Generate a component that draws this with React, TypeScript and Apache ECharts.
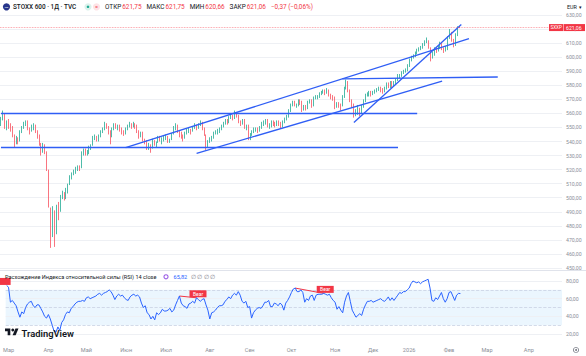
import React, { useEffect, useRef } from 'react';
import * as echarts from 'echarts';

// ---------- DATA (daily candles [open, close, low, high]) ----------
const candlesFeb25 = [[553, 556.5, 551, 557.5]];
const candlesMar25 = [
  [556.5, 560, 555, 562], [559, 551, 549, 560], [551, 553, 548, 555], [553, 552, 549, 556], [552, 550, 547, 553],
  [550, 544, 543, 551], [544, 539, 536, 545], [539, 542, 538, 544], [542, 540, 538, 543], [540, 547, 540, 548],
  [547, 550, 546, 551], [550, 553, 549, 554], [553, 554, 551, 555], [554, 549, 548, 555], [549, 547, 545, 550],
  [547, 550, 547, 552], [550, 551, 548, 553], [551, 547, 546, 552], [547, 544, 542, 548], [544, 538, 537, 545],
  [538, 534, 530, 539],
];
const candlesApr25 = [
  [534, 537, 532, 539], [537, 533, 531, 538], [531, 521, 519, 533], [519, 495, 493, 520], [490, 478, 464.3, 493],
  [480, 490, 472, 494], [489, 476, 465, 491], [478, 491, 474, 495], [491, 489, 484, 497], [491, 500, 490, 502],
  [500, 503, 499, 505], [503, 500, 498, 504], [500, 506, 499, 507], [505, 508, 503, 510], [510, 514, 509, 516],
  [514, 517, 513, 518], [517, 519, 516, 520], [519, 520, 517, 522], [520, 522, 519, 523], [522, 521, 519, 523],
];
const candlesMay25 = [
  [521, 532, 521, 533], [532, 534, 530, 535], [534, 532, 530, 535], [532, 533, 530, 534], [533, 535, 531, 537],
  [535, 537, 534, 538], [538, 542, 537, 544], [542, 543, 541, 545], [543, 541, 540, 544], [541, 544, 540, 545],
  [544, 547, 543, 548], [547, 549, 546, 550], [549, 552, 548, 554], [552, 550, 549, 553], [550, 547, 545, 551],
  [547, 543, 538, 548], [544, 549, 543, 550], [549, 552, 548, 553], [552, 550, 549, 553], [550, 551, 548, 552],
  [551, 549, 547, 552],
];
const candlesJun25 = [
  [549, 547, 545, 550], [547, 546, 544, 548], [546, 549, 545, 550], [549, 551, 548, 552], [551, 552, 550, 554],
  [552, 551, 549, 553], [551, 552, 550, 554], [552, 551, 549, 553], [551, 547, 546, 552], [547, 544, 542, 548],
  [544, 546, 543, 547], [546, 541, 540, 547], [541, 540, 538, 542], [540, 535, 534, 541], [535, 537, 534, 539],
  [537, 534, 532, 538], [535, 540, 535, 542], [540, 538, 537, 541], [538, 539, 536, 540], [539, 543, 539, 544],
  [543, 541, 540, 544],
];
const candlesJul25 = [
  [541, 541, 538, 543], [541, 542, 540, 544], [542, 543, 541, 545], [543, 540, 539, 544], [540, 541, 539, 542],
  [541, 545, 541, 546], [545, 549, 545, 551], [549, 552, 548, 553], [552, 547, 546, 552], [547, 545, 543, 548],
  [545, 544, 542, 547], [544, 542, 540, 545], [542, 546, 542, 547], [546, 547, 545, 549], [547, 548, 546, 550],
  [548, 547, 545, 549], [547, 550, 547, 551], [550, 551, 549, 553], [551, 550, 548, 552], [550, 552, 549, 553],
  [552, 553, 551, 555], [553, 549, 548, 554], [549, 545, 544, 550],
];
const candlesAug25 = [
  [544, 536, 534, 545], [537, 540, 536, 541], [540, 541, 539, 543], [541, 543, 540, 544], [543, 546, 542, 547],
  [546, 547, 545, 548], [547, 547, 545, 549], [547, 548, 546, 550], [548, 551, 548, 552], [551, 553, 550, 554],
  [553, 555, 552, 556], [555, 554, 552, 556], [554, 557, 553, 558], [557, 558, 556, 559], [558, 557, 555, 559],
  [557, 560, 556, 562], [560, 558, 557, 561], [558, 554, 553, 559], [554, 553, 551, 555], [553, 555, 552, 556],
  [555, 550, 549, 556],
];
const candlesSep25 = [
  [550, 551, 548, 552], [551, 542, 541, 552], [542, 545, 541, 546], [545, 547, 544, 548], [547, 548, 546, 550],
  [548, 549, 547, 550], [549, 548, 546, 550], [548, 550, 547, 551], [550, 553, 549, 554], [553, 553, 551, 555],
  [553, 555, 552, 556], [555, 551, 550, 556], [551, 551, 549, 553], [551, 554, 550, 555], [554, 553, 551, 555],
  [553, 552, 550, 554], [552, 554, 551, 555], [554, 553, 551, 555], [553, 550, 549, 554], [550, 554, 550, 555],
  [554, 556, 553, 557], [556, 558, 555, 559],
];
const candlesOct25 = [
  [558, 562, 557, 563], [562, 566, 561, 567], [566, 568, 565, 569], [568, 566, 565, 569], [566, 566, 564, 567],
  [566, 569, 565, 570], [569, 568, 566, 570], [568, 562, 561, 569], [563, 565, 562, 566], [565, 564, 562, 566],
  [564, 568, 563, 569], [568, 569, 567, 570], [569, 565, 564, 570], [566, 571, 565, 572], [571, 572, 570, 573],
  [572, 572, 570, 573], [572, 574, 571, 575], [574, 575, 573, 576], [575, 576, 574, 577], [576, 575, 573, 577],
  [575, 576, 574, 578], [576, 573, 572, 577], [573, 572, 570, 574],
];
const candlesNov25 = [
  [572, 571, 569, 573], [571, 565, 563, 572], [565, 567, 564, 568], [567, 566, 564, 568], [566, 565, 562, 567],
  [566, 572, 565, 573], [572, 578, 571, 579], [578, 582, 577, 584], [582, 576, 575, 583], [576, 569, 568, 577],
  [569, 566, 564, 570], [566, 559, 557, 567], [559, 561, 558, 563], [561, 563, 559, 566], [563, 560, 558, 564],
  [560, 565, 560, 566], [565, 569, 564, 570], [569, 573, 568, 574], [573, 573, 572, 575], [573, 575, 572, 576],
];
const candlesDec25 = [
  [575, 574, 572, 576], [574, 575, 573, 576], [575, 576, 574, 577], [576, 577, 575, 578], [577, 578, 576, 579],
  [578, 577, 575, 579], [577, 576, 574, 578], [576, 578, 575, 579], [578, 581, 577, 582], [581, 579, 578, 582],
  [579, 582, 578, 583], [582, 580, 578, 583], [580, 582, 579, 583], [582, 584, 581, 585], [584, 587, 583, 588],
  [587, 587, 585, 588], [587, 589, 586, 590], [589, 590, 588, 591], [590, 591, 589, 592],
];
const candlesJan26 = [
  [591, 594, 590, 595], [594, 598, 593, 599], [598, 600, 597, 601], [600, 601, 599, 602], [601, 603, 600, 604],
  [603, 605, 602, 606], [605, 606, 604, 607], [606, 607, 605, 608], [607, 609, 606, 610], [609, 611, 608, 612],
  [611, 612, 610, 614], [612, 607, 606, 612], [606, 601, 597, 607], [601, 602, 599, 604], [602, 606, 601, 607],
  [606, 605, 603, 607], [605, 607, 604, 608], [607, 609, 606, 611], [609, 606, 605, 610], [606, 605, 603, 607],
  [605, 607, 604, 608],
];
const candlesFeb26 = [
  [606, 614, 605, 615], [614, 617, 613, 620], [617, 612, 611, 618], [612, 609, 607, 613], [609, 616, 608, 617],
  [616, 621.43, 615, 622], [621.75, 621.06, 620.66, 621.75],
];

// RSI (14, close) values per bar
const rsiFeb25 = [75];
const rsiMar25 = [73, 56, 58, 55, 52, 45, 39, 45, 43, 50, 54, 56, 57, 52, 50, 53, 53, 49, 45, 40, 38];
const rsiApr25 = [42, 37, 30, 23, 22, 28, 24, 33, 36, 42, 45, 44, 49, 51, 54, 56, 57, 57, 58, 57];
const rsiMay25 = [61, 62, 60, 61, 62, 63, 65, 66, 64, 66, 67, 68, 70, 68, 64, 59, 63, 65, 63, 64, 61];
const rsiJun25 = [59, 58, 62, 64, 65, 63, 64, 62, 55, 50, 52, 44, 42, 37, 40, 36, 44, 42, 44, 48, 46];
const rsiJul25 = [46, 47, 49, 45, 47, 53, 58, 63, 55, 52, 51, 49, 54, 55, 57, 55, 61, 59, 57, 59, 60, 53, 47];
const rsiAug25 = [37, 44, 45, 47, 50, 52, 52, 53, 57, 59, 62, 60, 64, 66, 64, 68, 64, 57, 55, 57, 50];
const rsiSep25 = [51, 38, 44, 47, 49, 50, 49, 52, 56, 56, 58, 51, 51, 55, 54, 52, 55, 53, 47, 55, 58, 62];
const rsiOct25 = [67, 71, 72, 68, 68, 70, 67, 56, 60, 58, 63, 64, 58, 64, 65, 65, 65, 66, 65, 64, 65, 61, 58];
const rsiNov25 = [56, 48, 51, 47, 44, 56, 63, 67, 57, 47, 43, 39, 41, 43, 41, 48, 53, 57, 57, 58];
const rsiDec25 = [56, 57, 58, 59, 60, 58, 57, 59, 62, 58, 61, 58, 61, 64, 67, 66, 68, 68, 70];
const rsiJan26 = [72, 77, 80, 79, 78, 79, 77, 79, 80, 81, 82, 72, 58, 57, 61, 59, 63, 67, 60, 56, 60];
const rsiFeb26 = [67, 68, 63, 58, 64, 66, 65.82];

// Drawn trend lines: [barIndex, price] pairs
const trendLines = [
  [[0, 560.1], [217, 560.1]],
  [[0, 535.6], [207, 535.6]],
  [[178, 584.6], [259, 585.9]],
  [[65, 535.6], [244, 613.2]],
  [[102, 531.6], [230, 582.9]],
  [[184, 553.5], [240, 623.2]],
];
// RSI bearish divergences: [fromIndex, fromValue, toIndex, toValue]
const bearDivergences = [
  [91, 63, 100, 61],
  [152, 72, 167, 66],
];

const HOLIDAYS = ['2025-04-18', '2025-04-21', '2025-05-01', '2025-12-24', '2025-12-25', '2025-12-26',
  '2025-12-31', '2026-01-01', '2026-04-03', '2026-04-06'];
const MONTHS = ['Янв', 'Фев', 'Мар', 'Апр', 'Май', 'Июн', 'Июл', 'Авг', 'Сен', 'Окт', 'Ноя', 'Дек'];
const START_DATE = '2025-02-28';
const TOTAL_BARS = 293;

const candles = [
  ...candlesFeb25, ...candlesMar25, ...candlesApr25, ...candlesMay25, ...candlesJun25, ...candlesJul25,
  ...candlesAug25, ...candlesSep25, ...candlesOct25, ...candlesNov25, ...candlesDec25, ...candlesJan26, ...candlesFeb26,
];
const rsi = [
  ...rsiFeb25, ...rsiMar25, ...rsiApr25, ...rsiMay25, ...rsiJun25, ...rsiJul25, ...rsiAug25, ...rsiSep25,
  ...rsiOct25, ...rsiNov25, ...rsiDec25, ...rsiJan26, ...rsiFeb26,
];

function buildDates(start: string, count: number): string[] {
  const out: string[] = [];
  const d = new Date(start + 'T00:00:00Z');
  while (out.length < count) {
    const dow = d.getUTCDay();
    const s = d.toISOString().slice(0, 10);
    if (dow !== 0 && dow !== 6 && HOLIDAYS.indexOf(s) < 0) out.push(s);
    d.setUTCDate(d.getUTCDate() + 1);
  }
  return out;
}
const dates = buildDates(START_DATE, TOTAL_BARS);

const FONT = 'Roboto, "Noto Sans", sans-serif';
const UP = '#22ab94';
const DOWN = '#f7525f';
const LINE_BLUE = '#2f5ef5';
const fmt = (v: number) => v.toFixed(2).replace('.', ',').replace('-', '−');

function measure(text: string, size: number, weight = 400): number {
  const c = document.createElement('canvas').getContext('2d');
  if (!c) return text.length * size * 0.55;
  c.font = `${weight} ${size}px Roboto`;
  return c.measureText(text).width;
}

export default function App() {
  const ref = useRef<HTMLDivElement>(null);
  useEffect(() => {
    if (!ref.current) return;
    const chart = echarts.init(ref.current, undefined, { renderer: 'svg' });
    const last = candles[candles.length - 1];
    const prevClose = candles[candles.length - 2][1];
    const change = last[1] - prevClose;
    const changePct = (change / prevClose) * 100;

    const option: any = {
      animation: false,
      backgroundColor: '#ffffff',
      grid: [
        { left: 0, right: 24, top: 15, height: 253 },
        { left: 0, right: 24, top: 272.2, height: 70.6 },
      ],
      xAxis: [
        {
          type: 'category', gridIndex: 0, data: dates,
          axisLine: { show: false }, axisTick: { show: false }, axisLabel: { show: false }, splitLine: { show: false },
        },
        {
          type: 'category', gridIndex: 1, data: dates,
          axisLine: { show: false }, axisTick: { show: false }, splitLine: { show: false },
          axisLabel: {
            interval: (i: number) => i > 0 && dates[i].slice(5, 7) !== dates[i - 1].slice(5, 7),
            formatter: (v: string) => {
              const m = parseInt(v.slice(5, 7), 10);
              return m === 1 ? v.slice(0, 4) : MONTHS[m - 1];
            },
            color: '#8b8e97', fontSize: 5.6, fontFamily: FONT, margin: 4,
          },
        },
      ],
      yAxis: [
        {
          type: 'value', gridIndex: 0, position: 'right', min: 450, max: 630, interval: 10, scale: true,
          axisLine: { show: false }, axisTick: { show: false },
          axisLabel: { formatter: (v: number) => fmt(v), color: '#8b8e97', fontSize: 5.2, fontFamily: FONT, margin: 4 },
          splitLine: { lineStyle: { color: '#eef0f4', width: 1 } },
        },
        {
          type: 'value', gridIndex: 1, position: 'right', min: 10, max: 90, interval: 10,
          axisLine: { show: false }, axisTick: { show: false }, splitLine: { show: false },
          axisLabel: {
            formatter: (v: number) => (v % 20 === 0 ? fmt(v) : ''),
            color: '#8b8e97', fontSize: 5.2, fontFamily: FONT, margin: 4,
          },
        },
      ],
      series: [
        {
          type: 'candlestick', xAxisIndex: 0, yAxisIndex: 0, data: candles, barWidth: '55%',
          itemStyle: { color: UP, color0: DOWN, borderColor: UP, borderColor0: DOWN, borderWidth: 0.8 },
          markLine: {
            silent: true, symbol: ['none', 'none'], animation: false, label: { show: false },
            data: [
              ...trendLines.map((l) => [
                { coord: l[0], lineStyle: { color: LINE_BLUE, width: 1.3, type: 'solid' } },
                { coord: l[1] },
              ]),
              { yAxis: last[1], lineStyle: { color: DOWN, width: 0.8, type: 'dotted', opacity: 0.7 } },
            ],
          },
        },
        {
          type: 'line', xAxisIndex: 1, yAxisIndex: 1, data: rsi, showSymbol: false, symbol: 'none',
          lineStyle: { color: '#2962ff', width: 1 }, z: 5,
          markArea: {
            silent: true,
            itemStyle: { color: 'rgba(33,150,243,0.09)' },
            data: [[{ yAxis: 30 }, { yAxis: 70 }]],
          },
          markLine: {
            silent: true, symbol: ['none', 'none'], animation: false, label: { show: false },
            data: [
              ...[20, 40, 60, 80].map((v) => ({ yAxis: v, lineStyle: { color: '#eef0f4', width: 1, type: 'solid' } })),
              ...[70, 50, 30].map((v) => ({ yAxis: v, lineStyle: { color: '#c9d2e3', width: 0.8, type: 'dashed' } })),
              ...bearDivergences.map((d) => [
                { coord: [d[0], d[1]], lineStyle: { color: '#f23645', width: 1, type: 'solid' } },
                { coord: [d[2], d[3]] },
              ]),
            ],
          },
          markPoint: {
            silent: true, symbol: 'rect', symbolSize: [17, 7], animation: false,
            itemStyle: { color: '#f23645' },
            label: { show: true, formatter: 'Bear', color: '#ffffff', fontSize: 5, fontFamily: FONT, position: 'inside' },
            data: [
              { coord: [0, rsi[0]], symbolOffset: [-4.5, -4], label: { show: false } },
              ...bearDivergences.map((d) => ({ coord: [d[2], d[3]], symbolOffset: [1.5, -4] })),
            ],
          },
        },
      ],
    };
    chart.setOption(option);

    const yLast = chart.convertToPixel({ yAxisIndex: 0 }, last[1]) as number;
    const hdrY = 6.8;
    const HS = 6.4;
    const hdrFont = { fontSize: HS, fontFamily: FONT, verticalAlign: 'middle' as const };
    const headerPairs: [string, string][] = [
      ['ОТКР', fmt(last[0])],
      ['МАКС', fmt(last[3])],
      ['МИН', fmt(last[2])],
      ['ЗАКР', fmt(last[1])],
    ];
    const headerEls: any[] = [];
    let hx = 105;
    headerPairs.forEach(([lab, val]) => {
      headerEls.push({ type: 'text', x: hx, y: hdrY, style: { text: lab, fill: '#131722', ...hdrFont }, z: 20 });
      hx += measure(lab, HS) + 1;
      headerEls.push({ type: 'text', x: hx, y: hdrY, style: { text: val, fill: '#f23645', ...hdrFont }, z: 20 });
      hx += measure(val, HS) + 5;
    });
    headerEls.push({
      type: 'text', x: hx, y: hdrY,
      style: { text: `${fmt(change)} (${fmt(changePct)}%)`, fill: '#f23645', ...hdrFont }, z: 20,
    });

    const s = 0.38, lx = 5, ly = 327;
    const P = (pts: number[][]) => pts.map((p) => [lx + p[0] * s, ly + p[1] * s]);

    const graphics: any[] = [
      { type: 'line', shape: { x1: 0, y1: 270.5, x2: 586, y2: 270.5 }, style: { stroke: '#e0e3eb', lineWidth: 1 }, z: 10 },
      // header
      { type: 'circle', shape: { cx: 6.5, cy: hdrY, r: 3.6 }, style: { fill: '#27358a' }, z: 20 },
      { type: 'text', x: 6.5, y: hdrY, style: { text: '600', fill: '#fff', fontSize: 2.2, fontFamily: FONT, align: 'center', verticalAlign: 'middle' }, z: 21 },
      { type: 'text', x: 13, y: hdrY, style: { text: 'STOXX 600 · 1Д · TVC', fill: '#131722', fontWeight: 500, fontSize: 6.4, fontFamily: FONT, verticalAlign: 'middle' }, z: 20 },
      { type: 'circle', shape: { cx: 88, cy: hdrY, r: 3.6 }, style: { fill: '#dcf2ec' }, z: 20 },
      { type: 'circle', shape: { cx: 88, cy: hdrY, r: 1.3 }, style: { fill: UP }, z: 21 },
      { type: 'circle', shape: { cx: 96.5, cy: hdrY, r: 3.6 }, style: { fill: '#fde3e6' }, z: 20 },
      { type: 'text', x: 96.5, y: hdrY, style: { text: '=', fill: '#f23645', fontSize: 5.5, fontFamily: FONT, align: 'center', verticalAlign: 'middle' }, z: 21 },
      ...headerEls,
      // currency button
      { type: 'rect', shape: { x: 563, y: 1, width: 23, height: 11 }, style: { fill: '#ffffff' }, z: 20 },
      { type: 'text', x: 567, y: hdrY, style: { text: 'EUR', fill: '#131722', fontSize: 5.4, fontFamily: FONT, verticalAlign: 'middle' }, z: 21 },
      { type: 'text', x: 579, y: hdrY, style: { text: '▾', fill: '#131722', fontSize: 5, fontFamily: FONT, verticalAlign: 'middle' }, z: 21 },
      // last price tags
      { type: 'rect', shape: { x: 549, y: yLast - 3.5, width: 14.5, height: 7 }, style: { fill: '#f23645' }, z: 20 },
      { type: 'text', x: 556.2, y: yLast, style: { text: 'SXXP', fill: '#fff', fontSize: 4.6, fontFamily: FONT, align: 'center', verticalAlign: 'middle' }, z: 21 },
      { type: 'rect', shape: { x: 564, y: yLast - 3.5, width: 21, height: 7 }, style: { fill: '#f23645' }, z: 20 },
      { type: 'text', x: 566, y: yLast, style: { text: fmt(last[1]), fill: '#fff', fontSize: 5.2, fontFamily: FONT, verticalAlign: 'middle' }, z: 21 },
      // RSI header
      { type: 'text', x: 5, y: 276.8, style: { text: 'Расхождение Индекса относительной силы (RSI) 14 close', fill: '#131722', fontSize: 5.6, fontFamily: FONT, verticalAlign: 'middle' }, z: 20 },
      { type: 'ring', shape: { cx: 166, cy: 276.8, r: 2.6, r0: 1.5 }, style: { fill: '#9b5de5' }, z: 20 },
      { type: 'text', x: 173.5, y: 276.8, style: { text: fmt(rsi[rsi.length - 1]), fill: '#2962ff', fontSize: 5.6, fontFamily: FONT, verticalAlign: 'middle' }, z: 20 },
      { type: 'text', x: 191, y: 276.8, style: { text: '∅ ∅ ∅ ∅', fill: '#787b86', fontSize: 5.6, fontFamily: FONT, verticalAlign: 'middle' }, z: 20 },
      // TradingView logo
      { type: 'polygon', shape: { points: P([[0, 4], [14, 4], [14, 22], [7, 22], [7, 11], [0, 11]]) }, style: { fill: '#131722' }, z: 20 },
      { type: 'circle', shape: { cx: lx + 20.5 * s, cy: ly + 8 * s, r: 3.8 * s }, style: { fill: '#131722' }, z: 20 },
      { type: 'polygon', shape: { points: P([[20, 22], [27.5, 4], [35.5, 4], [28, 22]]) }, style: { fill: '#131722' }, z: 20 },
      { type: 'text', x: 21.5, y: 333.5, style: { text: 'TradingView', fill: '#131722', fontSize: 9.4, fontWeight: 600, fontFamily: FONT, verticalAlign: 'middle' }, z: 20 },
      // settings icon
      { type: 'ring', shape: { cx: 576, cy: 350, r: 3, r0: 2.2 }, style: { fill: '#787b86' }, z: 20 },
      { type: 'circle', shape: { cx: 576, cy: 350, r: 1 }, style: { fill: '#787b86' }, z: 20 },
    ];
    chart.setOption({ graphic: graphics });

    return () => chart.dispose();
  }, []);
  return (
    <div
      ref={ref}
      style={{ position: 'absolute', left: 0, top: 0, width: 586, height: 356, background: '#fff' }}
    />
  );
}
